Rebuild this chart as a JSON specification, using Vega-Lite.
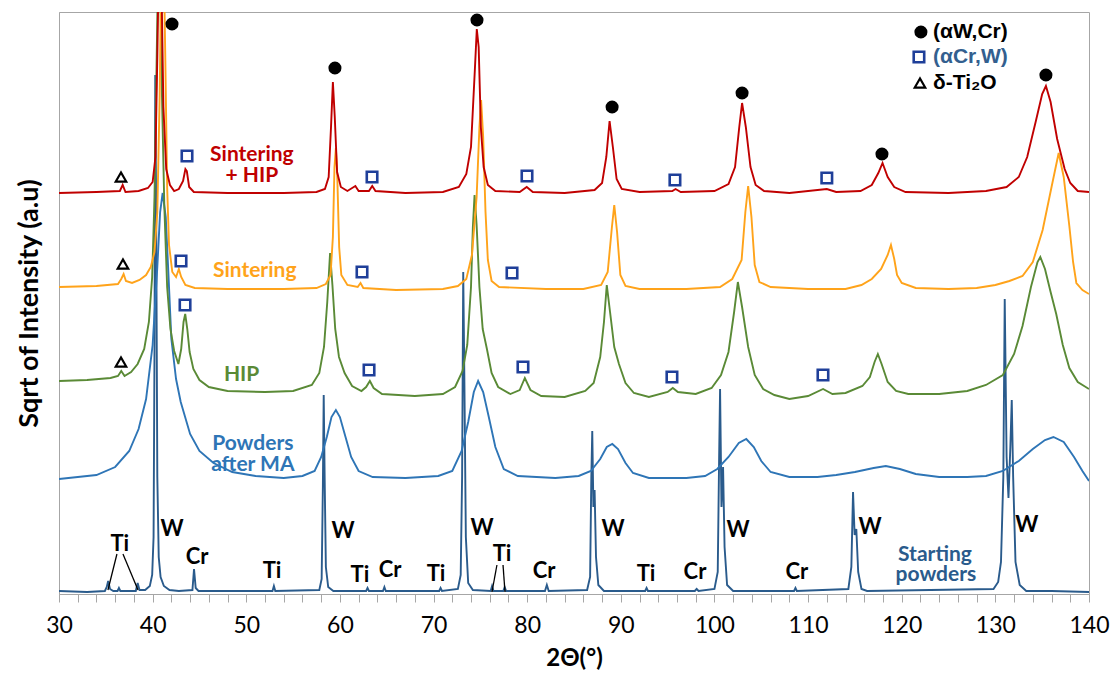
{
"$schema":"https://vega.github.io/schema/vega-lite/v6.json",
"autosize":{"type":"none"},
"width":1030,"height":582,
"padding":{"left":59,"top":12,"right":25,"bottom":90},
"background":"white",
"config":{"view":{"stroke":"#A6A6A6","strokeWidth":1},"font":"Lato"},
"datasets":{
"xrd":[
{"s":"SP","t":30,"h":6},{"s":"SP","t":33,"h":5},{"s":"SP","t":34.9,"h":6},{"s":"SP","t":35.1,"h":10},{"s":"SP","t":35.25,"h":16},{"s":"SP","t":35.45,"h":8},{"s":"SP","t":35.8,"h":6},{"s":"SP","t":36.25,"h":6},{"s":"SP","t":36.4,"h":9},{"s":"SP","t":36.55,"h":6},{"s":"SP","t":38.2,"h":6},{"s":"SP","t":38.4,"h":14},{"s":"SP","t":38.6,"h":7},{"s":"SP","t":39.2,"h":7},{"s":"SP","t":39.7,"h":11},{"s":"SP","t":39.95,"h":22},{"s":"SP","t":40.1,"h":60},{"s":"SP","t":40.2,"h":250},{"s":"SP","t":40.28,"h":522},{"s":"SP","t":40.38,"h":380},{"s":"SP","t":40.5,"h":120},{"s":"SP","t":40.65,"h":40},{"s":"SP","t":40.85,"h":20},{"s":"SP","t":41.2,"h":11},{"s":"SP","t":41.8,"h":7},{"s":"SP","t":42.8,"h":6},{"s":"SP","t":44.25,"h":7},{"s":"SP","t":44.42,"h":28},{"s":"SP","t":44.6,"h":9},{"s":"SP","t":44.9,"h":6},{"s":"SP","t":52.8,"h":6},{"s":"SP","t":52.95,"h":11},{"s":"SP","t":53.1,"h":6},{"s":"SP","t":57.8,"h":7},{"s":"SP","t":58.05,"h":18},{"s":"SP","t":58.18,"h":110},{"s":"SP","t":58.27,"h":202},{"s":"SP","t":58.37,"h":120},{"s":"SP","t":58.5,"h":30},{"s":"SP","t":58.75,"h":10},{"s":"SP","t":59.3,"h":6},{"s":"SP","t":62.8,"h":6},{"s":"SP","t":62.95,"h":9},{"s":"SP","t":63.1,"h":6},{"s":"SP","t":64.6,"h":6},{"s":"SP","t":64.75,"h":10},{"s":"SP","t":64.9,"h":6},{"s":"SP","t":70.6,"h":6},{"s":"SP","t":70.75,"h":9},{"s":"SP","t":70.9,"h":6},{"s":"SP","t":72.6,"h":8},{"s":"SP","t":72.9,"h":22},{"s":"SP","t":73.05,"h":120},{"s":"SP","t":73.17,"h":325},{"s":"SP","t":73.3,"h":210},{"s":"SP","t":73.45,"h":60},{"s":"SP","t":73.7,"h":14},{"s":"SP","t":74.2,"h":7},{"s":"SP","t":76.1,"h":6},{"s":"SP","t":76.25,"h":11},{"s":"SP","t":76.4,"h":6},{"s":"SP","t":77.45,"h":6},{"s":"SP","t":77.6,"h":10},{"s":"SP","t":77.75,"h":6},{"s":"SP","t":81.9,"h":6},{"s":"SP","t":82.1,"h":12},{"s":"SP","t":82.3,"h":6},{"s":"SP","t":86.4,"h":7},{"s":"SP","t":86.72,"h":20},{"s":"SP","t":86.85,"h":120},{"s":"SP","t":86.95,"h":166},{"s":"SP","t":87.07,"h":90},{"s":"SP","t":87.2,"h":107},{"s":"SP","t":87.35,"h":40},{"s":"SP","t":87.6,"h":12},{"s":"SP","t":88.2,"h":6},{"s":"SP","t":92.6,"h":6},{"s":"SP","t":92.75,"h":9},{"s":"SP","t":92.9,"h":6},{"s":"SP","t":97.9,"h":6},{"s":"SP","t":98.1,"h":8},{"s":"SP","t":98.3,"h":6},{"s":"SP","t":100.0,"h":8},{"s":"SP","t":100.35,"h":25},{"s":"SP","t":100.5,"h":140},{"s":"SP","t":100.6,"h":208},{"s":"SP","t":100.75,"h":90},{"s":"SP","t":100.92,"h":130},{"s":"SP","t":101.08,"h":50},{"s":"SP","t":101.35,"h":12},{"s":"SP","t":102,"h":6},{"s":"SP","t":108.5,"h":6},{"s":"SP","t":108.65,"h":9},{"s":"SP","t":108.8,"h":6},{"s":"SP","t":114.3,"h":8},{"s":"SP","t":114.62,"h":30},{"s":"SP","t":114.8,"h":105},{"s":"SP","t":114.97,"h":62},{"s":"SP","t":115.15,"h":68},{"s":"SP","t":115.35,"h":25},{"s":"SP","t":115.7,"h":8},{"s":"SP","t":116.3,"h":6},{"s":"SP","t":129.8,"h":8},{"s":"SP","t":130.3,"h":15},{"s":"SP","t":130.6,"h":35},{"s":"SP","t":130.85,"h":120},{"s":"SP","t":131.0,"h":298},{"s":"SP","t":131.2,"h":140},{"s":"SP","t":131.4,"h":99},{"s":"SP","t":131.6,"h":150},{"s":"SP","t":131.75,"h":197},{"s":"SP","t":131.9,"h":120},{"s":"SP","t":132.15,"h":35},{"s":"SP","t":132.6,"h":12},{"s":"SP","t":133.3,"h":6},{"s":"SP","t":136,"h":6},{"s":"SP","t":140,"h":5},
{"s":"MA","t":30,"h":118},{"s":"MA","t":34,"h":122},{"s":"MA","t":36,"h":130},{"s":"MA","t":37.5,"h":146},{"s":"MA","t":38.5,"h":168},{"s":"MA","t":39.3,"h":198},{"s":"MA","t":40.0,"h":252},{"s":"MA","t":40.5,"h":330},{"s":"MA","t":40.8,"h":385},{"s":"MA","t":41.07,"h":404},{"s":"MA","t":41.4,"h":380},{"s":"MA","t":41.7,"h":320},{"s":"MA","t":42.0,"h":258},{"s":"MA","t":42.5,"h":218},{"s":"MA","t":43.0,"h":195},{"s":"MA","t":44.0,"h":163},{"s":"MA","t":45.0,"h":146},{"s":"MA","t":46.5,"h":134},{"s":"MA","t":48.5,"h":125},{"s":"MA","t":51,"h":121},{"s":"MA","t":54,"h":119},{"s":"MA","t":56,"h":121},{"s":"MA","t":57.3,"h":126},{"s":"MA","t":58.0,"h":140},{"s":"MA","t":58.6,"h":160},{"s":"MA","t":59.1,"h":180},{"s":"MA","t":59.57,"h":187},{"s":"MA","t":60.0,"h":180},{"s":"MA","t":60.6,"h":160},{"s":"MA","t":61.2,"h":140},{"s":"MA","t":62.0,"h":126},{"s":"MA","t":63.5,"h":120},{"s":"MA","t":67,"h":119},{"s":"MA","t":70.5,"h":121},{"s":"MA","t":72.0,"h":126},{"s":"MA","t":73.0,"h":146},{"s":"MA","t":73.7,"h":175},{"s":"MA","t":74.3,"h":205},{"s":"MA","t":74.76,"h":216},{"s":"MA","t":75.3,"h":205},{"s":"MA","t":75.9,"h":180},{"s":"MA","t":76.6,"h":150},{"s":"MA","t":77.5,"h":128},{"s":"MA","t":79,"h":121},{"s":"MA","t":83,"h":119},{"s":"MA","t":85.5,"h":121},{"s":"MA","t":86.8,"h":126},{"s":"MA","t":87.8,"h":138},{"s":"MA","t":88.5,"h":150},{"s":"MA","t":89.09,"h":153},{"s":"MA","t":89.7,"h":148},{"s":"MA","t":90.5,"h":134},{"s":"MA","t":91.3,"h":124},{"s":"MA","t":93,"h":119},{"s":"MA","t":97,"h":119},{"s":"MA","t":99,"h":121},{"s":"MA","t":100.3,"h":128},{"s":"MA","t":101.5,"h":140},{"s":"MA","t":102.6,"h":154},{"s":"MA","t":103.4,"h":158},{"s":"MA","t":104.2,"h":150},{"s":"MA","t":105,"h":136},{"s":"MA","t":106,"h":125},{"s":"MA","t":108,"h":120},{"s":"MA","t":111,"h":120},{"s":"MA","t":113,"h":122},{"s":"MA","t":115,"h":125},{"s":"MA","t":117,"h":129},{"s":"MA","t":118.3,"h":131},{"s":"MA","t":119.8,"h":128},{"s":"MA","t":121.5,"h":123},{"s":"MA","t":124,"h":120},{"s":"MA","t":127,"h":120},{"s":"MA","t":129,"h":121},{"s":"MA","t":130.8,"h":126},{"s":"MA","t":132.5,"h":136},{"s":"MA","t":134,"h":148},{"s":"MA","t":135.3,"h":157},{"s":"MA","t":136.2,"h":160},{"s":"MA","t":137.3,"h":155},{"s":"MA","t":138.4,"h":140},{"s":"MA","t":139.3,"h":126},{"s":"MA","t":140,"h":116},
{"s":"HIP","t":30,"h":216},{"s":"HIP","t":33,"h":217},{"s":"HIP","t":35.5,"h":219},{"s":"HIP","t":36.3,"h":221},{"s":"HIP","t":36.65,"h":226},{"s":"HIP","t":37.0,"h":221},{"s":"HIP","t":37.7,"h":225},{"s":"HIP","t":38.4,"h":233},{"s":"HIP","t":39.1,"h":248},{"s":"HIP","t":39.6,"h":275},{"s":"HIP","t":39.95,"h":320},{"s":"HIP","t":40.2,"h":400},{"s":"HIP","t":40.4,"h":520},{"s":"HIP","t":40.6,"h":640},{"s":"HIP","t":40.8,"h":620},{"s":"HIP","t":41.0,"h":500},{"s":"HIP","t":41.25,"h":390},{"s":"HIP","t":41.55,"h":310},{"s":"HIP","t":41.9,"h":268},{"s":"HIP","t":42.3,"h":246},{"s":"HIP","t":42.75,"h":233},{"s":"HIP","t":43.05,"h":248},{"s":"HIP","t":43.3,"h":275},{"s":"HIP","t":43.48,"h":283},{"s":"HIP","t":43.7,"h":268},{"s":"HIP","t":43.95,"h":245},{"s":"HIP","t":44.35,"h":228},{"s":"HIP","t":45.0,"h":217},{"s":"HIP","t":46,"h":210},{"s":"HIP","t":48,"h":206},{"s":"HIP","t":52,"h":205},{"s":"HIP","t":55,"h":206},{"s":"HIP","t":57,"h":212},{"s":"HIP","t":57.8,"h":224},{"s":"HIP","t":58.3,"h":250},{"s":"HIP","t":58.65,"h":295},{"s":"HIP","t":58.95,"h":344},{"s":"HIP","t":59.2,"h":312},{"s":"HIP","t":59.5,"h":268},{"s":"HIP","t":59.9,"h":240},{"s":"HIP","t":60.5,"h":224},{"s":"HIP","t":61.3,"h":211},{"s":"HIP","t":62.3,"h":206},{"s":"HIP","t":62.8,"h":210},{"s":"HIP","t":63.2,"h":216},{"s":"HIP","t":63.6,"h":209},{"s":"HIP","t":64.5,"h":203},{"s":"HIP","t":68,"h":201},{"s":"HIP","t":71,"h":203},{"s":"HIP","t":72.3,"h":210},{"s":"HIP","t":73.1,"h":226},{"s":"HIP","t":73.6,"h":252},{"s":"HIP","t":74.0,"h":310},{"s":"HIP","t":74.2,"h":370},{"s":"HIP","t":74.38,"h":402},{"s":"HIP","t":74.6,"h":372},{"s":"HIP","t":74.9,"h":310},{"s":"HIP","t":75.25,"h":268},{"s":"HIP","t":75.7,"h":248},{"s":"HIP","t":76.2,"h":224},{"s":"HIP","t":76.9,"h":210},{"s":"HIP","t":78.2,"h":203},{"s":"HIP","t":79.2,"h":207},{"s":"HIP","t":79.75,"h":219},{"s":"HIP","t":80.35,"h":207},{"s":"HIP","t":81.5,"h":201},{"s":"HIP","t":84,"h":200},{"s":"HIP","t":86.2,"h":206},{"s":"HIP","t":87.1,"h":214},{"s":"HIP","t":87.8,"h":240},{"s":"HIP","t":88.2,"h":275},{"s":"HIP","t":88.5,"h":312},{"s":"HIP","t":88.85,"h":285},{"s":"HIP","t":89.3,"h":250},{"s":"HIP","t":89.8,"h":233},{"s":"HIP","t":90.5,"h":214},{"s":"HIP","t":91.4,"h":204},{"s":"HIP","t":93,"h":200},{"s":"HIP","t":95,"h":205},{"s":"HIP","t":95.55,"h":209},{"s":"HIP","t":96.1,"h":205},{"s":"HIP","t":98,"h":203},{"s":"HIP","t":99.7,"h":209},{"s":"HIP","t":100.7,"h":222},{"s":"HIP","t":101.5,"h":245},{"s":"HIP","t":102.1,"h":285},{"s":"HIP","t":102.5,"h":315},{"s":"HIP","t":102.95,"h":290},{"s":"HIP","t":103.6,"h":250},{"s":"HIP","t":104.3,"h":222},{"s":"HIP","t":105.2,"h":208},{"s":"HIP","t":106.4,"h":202},{"s":"HIP","t":108,"h":198},{"s":"HIP","t":110,"h":201},{"s":"HIP","t":111.6,"h":208},{"s":"HIP","t":112.6,"h":203},{"s":"HIP","t":114,"h":204},{"s":"HIP","t":115.8,"h":211},{"s":"HIP","t":116.6,"h":220},{"s":"HIP","t":117.1,"h":235},{"s":"HIP","t":117.45,"h":243},{"s":"HIP","t":117.85,"h":233},{"s":"HIP","t":118.5,"h":215},{"s":"HIP","t":119.4,"h":206},{"s":"HIP","t":120.7,"h":203},{"s":"HIP","t":124,"h":203},{"s":"HIP","t":127,"h":206},{"s":"HIP","t":129,"h":212},{"s":"HIP","t":130.8,"h":222},{"s":"HIP","t":132,"h":243},{"s":"HIP","t":132.9,"h":271},{"s":"HIP","t":133.8,"h":310},{"s":"HIP","t":134.5,"h":335},{"s":"HIP","t":134.8,"h":340},{"s":"HIP","t":135.3,"h":328},{"s":"HIP","t":135.9,"h":305},{"s":"HIP","t":136.5,"h":283},{"s":"HIP","t":137.2,"h":252},{"s":"HIP","t":137.9,"h":229},{"s":"HIP","t":138.8,"h":215},{"s":"HIP","t":140,"h":208},
{"s":"S","t":30,"h":310},{"s":"S","t":34,"h":311},{"s":"S","t":36.3,"h":313},{"s":"S","t":36.65,"h":318},{"s":"S","t":36.9,"h":323},{"s":"S","t":37.15,"h":316},{"s":"S","t":37.8,"h":314},{"s":"S","t":38.6,"h":317},{"s":"S","t":39.3,"h":322},{"s":"S","t":39.8,"h":330},{"s":"S","t":40.2,"h":345},{"s":"S","t":40.5,"h":385},{"s":"S","t":40.75,"h":500},{"s":"S","t":40.95,"h":650},{"s":"S","t":41.15,"h":660},{"s":"S","t":41.35,"h":540},{"s":"S","t":41.55,"h":410},{"s":"S","t":41.75,"h":352},{"s":"S","t":42.1,"h":325},{"s":"S","t":42.5,"h":320},{"s":"S","t":42.8,"h":328},{"s":"S","t":43.05,"h":320},{"s":"S","t":43.5,"h":312},{"s":"S","t":44.5,"h":309},{"s":"S","t":48,"h":308},{"s":"S","t":54,"h":308},{"s":"S","t":57.5,"h":309},{"s":"S","t":58.5,"h":313},{"s":"S","t":59.0,"h":322},{"s":"S","t":59.25,"h":360},{"s":"S","t":59.42,"h":430},{"s":"S","t":59.57,"h":449},{"s":"S","t":59.72,"h":420},{"s":"S","t":59.92,"h":350},{"s":"S","t":60.15,"h":322},{"s":"S","t":60.8,"h":312},{"s":"S","t":61.9,"h":310},{"s":"S","t":62.2,"h":314},{"s":"S","t":62.5,"h":309},{"s":"S","t":66,"h":307},{"s":"S","t":71,"h":308},{"s":"S","t":72.6,"h":311},{"s":"S","t":73.5,"h":318},{"s":"S","t":74.1,"h":342},{"s":"S","t":74.6,"h":400},{"s":"S","t":74.9,"h":470},{"s":"S","t":75.08,"h":497},{"s":"S","t":75.3,"h":460},{"s":"S","t":75.55,"h":385},{"s":"S","t":75.8,"h":337},{"s":"S","t":76.2,"h":316},{"s":"S","t":77,"h":310},{"s":"S","t":82,"h":308},{"s":"S","t":86,"h":308},{"s":"S","t":87.9,"h":312},{"s":"S","t":88.6,"h":325},{"s":"S","t":89.05,"h":370},{"s":"S","t":89.3,"h":392},{"s":"S","t":89.6,"h":365},{"s":"S","t":89.95,"h":322},{"s":"S","t":90.5,"h":311},{"s":"S","t":92,"h":308},{"s":"S","t":97,"h":308},{"s":"S","t":100.6,"h":310},{"s":"S","t":101.9,"h":318},{"s":"S","t":102.9,"h":337},{"s":"S","t":103.3,"h":385},{"s":"S","t":103.6,"h":411},{"s":"S","t":103.95,"h":380},{"s":"S","t":104.3,"h":332},{"s":"S","t":104.8,"h":315},{"s":"S","t":106,"h":310},{"s":"S","t":110,"h":308},{"s":"S","t":114,"h":308},{"s":"S","t":115.7,"h":312},{"s":"S","t":116.8,"h":318},{"s":"S","t":117.8,"h":328},{"s":"S","t":118.5,"h":342},{"s":"S","t":118.85,"h":352},{"s":"S","t":119.2,"h":338},{"s":"S","t":119.5,"h":322},{"s":"S","t":120,"h":314},{"s":"S","t":121.5,"h":309},{"s":"S","t":125,"h":308},{"s":"S","t":128,"h":309},{"s":"S","t":130,"h":312},{"s":"S","t":131.5,"h":316},{"s":"S","t":132.9,"h":321},{"s":"S","t":134,"h":335},{"s":"S","t":135.05,"h":367},{"s":"S","t":136.0,"h":410},{"s":"S","t":136.76,"h":444},{"s":"S","t":137.3,"h":420},{"s":"S","t":137.9,"h":371},{"s":"S","t":138.3,"h":335},{"s":"S","t":138.65,"h":314},{"s":"S","t":139.3,"h":307},{"s":"S","t":140,"h":303},
{"s":"SH","t":30,"h":404},{"s":"SH","t":34,"h":405},{"s":"SH","t":36.5,"h":406},{"s":"SH","t":36.8,"h":412},{"s":"SH","t":37.1,"h":405},{"s":"SH","t":38.5,"h":406},{"s":"SH","t":39.5,"h":409},{"s":"SH","t":40.0,"h":415},{"s":"SH","t":40.3,"h":440},{"s":"SH","t":40.5,"h":540},{"s":"SH","t":40.7,"h":660},{"s":"SH","t":40.9,"h":640},{"s":"SH","t":41.15,"h":490},{"s":"SH","t":41.45,"h":428},{"s":"SH","t":41.85,"h":412},{"s":"SH","t":42.3,"h":406},{"s":"SH","t":42.8,"h":408},{"s":"SH","t":43.25,"h":416},{"s":"SH","t":43.5,"h":428},{"s":"SH","t":43.65,"h":426},{"s":"SH","t":43.9,"h":410},{"s":"SH","t":44.4,"h":405},{"s":"SH","t":48,"h":404},{"s":"SH","t":54,"h":404},{"s":"SH","t":57.5,"h":405},{"s":"SH","t":58.4,"h":408},{"s":"SH","t":58.8,"h":420},{"s":"SH","t":59.05,"h":470},{"s":"SH","t":59.25,"h":515},{"s":"SH","t":59.45,"h":480},{"s":"SH","t":59.7,"h":425},{"s":"SH","t":60.1,"h":410},{"s":"SH","t":60.8,"h":406},{"s":"SH","t":61.65,"h":411},{"s":"SH","t":62.0,"h":406},{"s":"SH","t":63.1,"h":406},{"s":"SH","t":63.45,"h":411},{"s":"SH","t":63.8,"h":406},{"s":"SH","t":67,"h":404},{"s":"SH","t":71,"h":405},{"s":"SH","t":72.7,"h":410},{"s":"SH","t":73.5,"h":423},{"s":"SH","t":74.0,"h":450},{"s":"SH","t":74.4,"h":525},{"s":"SH","t":74.62,"h":568},{"s":"SH","t":74.82,"h":550},{"s":"SH","t":75.05,"h":470},{"s":"SH","t":75.35,"h":430},{"s":"SH","t":75.8,"h":412},{"s":"SH","t":76.6,"h":406},{"s":"SH","t":79.2,"h":405},{"s":"SH","t":79.95,"h":410},{"s":"SH","t":80.6,"h":405},{"s":"SH","t":84,"h":404},{"s":"SH","t":87.2,"h":407},{"s":"SH","t":88.0,"h":414},{"s":"SH","t":88.45,"h":440},{"s":"SH","t":88.8,"h":476},{"s":"SH","t":89.15,"h":450},{"s":"SH","t":89.55,"h":418},{"s":"SH","t":90.1,"h":408},{"s":"SH","t":92,"h":405},{"s":"SH","t":95.5,"h":406},{"s":"SH","t":95.85,"h":408},{"s":"SH","t":96.4,"h":405},{"s":"SH","t":100,"h":406},{"s":"SH","t":101.5,"h":413},{"s":"SH","t":102.2,"h":430},{"s":"SH","t":102.65,"h":470},{"s":"SH","t":102.95,"h":494},{"s":"SH","t":103.35,"h":470},{"s":"SH","t":103.85,"h":430},{"s":"SH","t":104.4,"h":412},{"s":"SH","t":105.3,"h":406},{"s":"SH","t":108,"h":404},{"s":"SH","t":112.0,"h":408},{"s":"SH","t":113,"h":405},{"s":"SH","t":115.6,"h":406},{"s":"SH","t":116.8,"h":412},{"s":"SH","t":117.5,"h":424},{"s":"SH","t":117.95,"h":434},{"s":"SH","t":118.5,"h":420},{"s":"SH","t":119.2,"h":410},{"s":"SH","t":120.4,"h":405},{"s":"SH","t":125,"h":404},{"s":"SH","t":129,"h":406},{"s":"SH","t":131.2,"h":410},{"s":"SH","t":132.5,"h":420},{"s":"SH","t":133.4,"h":440},{"s":"SH","t":134.3,"h":475},{"s":"SH","t":135.0,"h":503},{"s":"SH","t":135.4,"h":511},{"s":"SH","t":135.9,"h":495},{"s":"SH","t":136.6,"h":458},{"s":"SH","t":137.4,"h":428},{"s":"SH","t":138.0,"h":414},{"s":"SH","t":138.8,"h":406},{"s":"SH","t":140,"h":405}
],
"tiln":[
{"t":36.19,"h":43,"t2":35.23,"h2":7},{"t":36.83,"h":43,"t2":38.44,"h2":7},{"t":76.77,"h":32,"t2":76.24,"h2":5},{"t":77.42,"h":32,"t2":77.63,"h2":5}
],
"ann":[
{"t":36.5,"h":53,"txt":"Ti"},{"t":42.07,"h":68,"txt":"W"},{"t":44.74,"h":40,"txt":"Cr"},{"t":52.75,"h":26,"txt":"Ti"},{"t":60.33,"h":66,"txt":"W"},{"t":62.14,"h":22,"txt":"Ti"},{"t":65.35,"h":27,"txt":"Cr"},{"t":70.26,"h":23,"txt":"Ti"},{"t":75.17,"h":69,"txt":"W"},{"t":77.31,"h":43,"txt":"Ti"},{"t":81.8,"h":26,"txt":"Cr"},{"t":89.16,"h":68,"txt":"W"},{"t":92.69,"h":23,"txt":"Ti"},{"t":97.92,"h":25,"txt":"Cr"},{"t":102.51,"h":67,"txt":"W"},{"t":108.81,"h":25,"txt":"Cr"},{"t":116.61,"h":70,"txt":"W"},{"t":133.37,"h":72,"txt":"W"}
],
"slab":[
{"s":"SH","t":50.6,"h":442,"txt":"Sintering"},{"s":"SH","t":50.6,"h":421,"txt":"+ HIP"},{"s":"S","t":50.9,"h":326,"txt":"Sintering"},{"s":"HIP","t":49.5,"h":222,"txt":"HIP"},{"s":"MA","t":50.7,"h":153,"txt":"Powders"},{"s":"MA","t":50.7,"h":132,"txt":"after MA"},{"s":"SP","t":123.55,"h":42,"txt":"Starting"},{"s":"SP","t":123.65,"h":22,"txt":"powders"}
],
"mk":[
{"k":"c","t":42.07,"h":573},{"k":"c","t":59.47,"h":529},{"k":"c","t":74.64,"h":577},{"k":"c","t":89.07,"h":490},{"k":"c","t":102.95,"h":504},{"k":"c","t":117.89,"h":443},{"k":"c","t":135.4,"h":522},{"k":"c","t":122.05,"h":565},
{"k":"s","t":43.67,"h":441},{"k":"s","t":43.03,"h":336},{"k":"s","t":43.46,"h":292},{"k":"s","t":63.43,"h":420},{"k":"s","t":62.36,"h":325},{"k":"s","t":63.11,"h":227},{"k":"s","t":79.98,"h":421},{"k":"s","t":78.38,"h":324},{"k":"s","t":79.55,"h":230},{"k":"s","t":95.78,"h":417},{"k":"s","t":95.46,"h":220},{"k":"s","t":112.0,"h":419},{"k":"s","t":111.59,"h":222},{"k":"s","t":121.84,"h":540},
{"k":"t","t":36.62,"h":420},{"k":"t","t":36.83,"h":333},{"k":"t","t":36.62,"h":235},{"k":"t","t":121.95,"h":514}
],
"leg":[
{"k":"b","t":123.34,"h":565,"txt":"(αW,Cr)"},{"k":"u","t":123.34,"h":540,"txt":"(αCr,W)"},{"k":"b","t":123.34,"h":514,"txt":"δ-Ti₂O"}
]
},
"encoding":{
"x":{"field":"t","type":"quantitative","scale":{"domain":[30,140],"nice":false,"zero":false},
"axis":{"values":[30,32,34,36,38,40,42,44,46,48,50,52,54,56,58,60,62,64,66,68,70,72,74,76,78,80,82,84,86,88,90,92,94,96,98,100,102,104,106,108,110,112,114,116,118,120,122,124,126,128,130,132,134,136,138,140],
"labelExpr":"datum.value % 10 == 0 ? datum.label : ''","labelFont":"Lato","labelFontSize":23,"labelColor":"#000000","labelPadding":12,"labelFlush":false,"labelOverlap":false,"labelBound":false,
"tickSize":8,"tickColor":"#A6A6A6","domainColor":"#A6A6A6","grid":false,
"title":"2Θ(°)","titleFont":"Lato","titleFontSize":24,"titleFontWeight":"bold","titleColor":"#000000","titlePadding":9}},
"y":{"field":"h","type":"quantitative","scale":{"domain":[3,585],"nice":false,"zero":false},
"axis":{"labels":false,"ticks":false,"grid":false,"domainColor":"#A6A6A6","title":"Sqrt of Intensity (a.u)","titleFont":"Lato","titleFontSize":27,"titleFontWeight":"bold","titleColor":"#000000","titlePadding":16}}
},
"layer":[
{"data":{"name":"xrd"},"mark":{"type":"line","clip":true,"strokeWidth":1.9},
"encoding":{"color":{"field":"s","type":"nominal","legend":null,"scale":{"domain":["SP","MA","HIP","S","SH"],"range":["#2A5B8C","#2E75B6","#5A8A36","#FFA31A","#C00000"]}}}},
{"data":{"name":"tiln"},"mark":{"type":"rule","color":"#000000","strokeWidth":1.3},
"encoding":{"x2":{"field":"t2"},"y2":{"field":"h2"}}},
{"data":{"name":"ann"},"mark":{"type":"text","font":"Lato","fontSize":22,"fontWeight":"bold","color":"#000000","align":"center","baseline":"middle"},
"encoding":{"text":{"field":"txt"}}},
{"data":{"name":"slab"},"mark":{"type":"text","font":"Lato","fontSize":21,"fontWeight":"bold","align":"center","baseline":"middle"},
"encoding":{"text":{"field":"txt"},"color":{"field":"s","type":"nominal","legend":null}}},
{"data":{"name":"mk"},"transform":[{"filter":"datum.k == 'c'"}],"mark":{"type":"point","shape":"circle","filled":true,"color":"#000000","size":170,"opacity":1}},
{"data":{"name":"mk"},"transform":[{"filter":"datum.k == 's'"}],"mark":{"type":"point","shape":"square","filled":false,"color":"#1F3F99","strokeWidth":2.6,"size":110,"opacity":1}},
{"data":{"name":"mk"},"transform":[{"filter":"datum.k == 't'"}],"mark":{"type":"point","shape":"triangle-up","filled":false,"color":"#000000","strokeWidth":2.2,"size":110,"opacity":1}},
{"data":{"name":"leg"},"transform":[{"filter":"datum.k == 'b'"}],"mark":{"type":"text","font":"Liberation Sans","fontSize":21,"fontWeight":"bold","color":"#000000","align":"left","baseline":"middle"},
"encoding":{"text":{"field":"txt"}}},
{"data":{"name":"leg"},"transform":[{"filter":"datum.k == 'u'"}],"mark":{"type":"text","font":"Liberation Sans","fontSize":21,"fontWeight":"bold","color":"#335F8F","align":"left","baseline":"middle"},
"encoding":{"text":{"field":"txt"}}}
]
}
